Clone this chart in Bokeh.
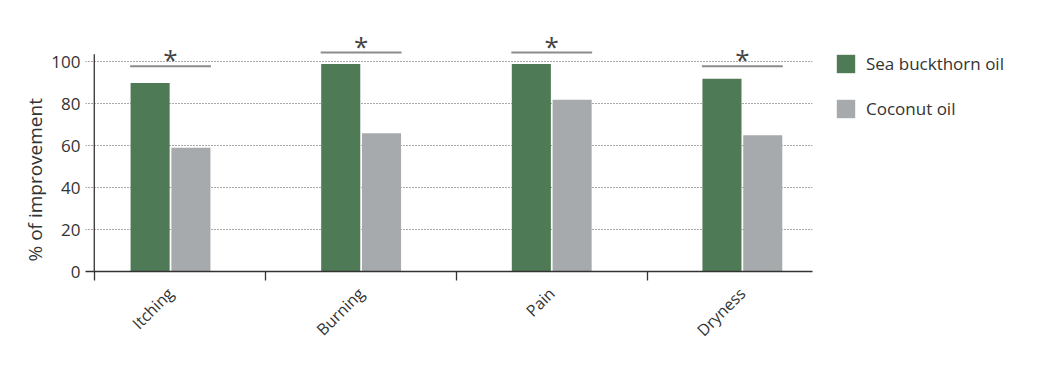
import math
from bokeh.plotting import figure
from bokeh.models import Range1d, FixedTicker, Legend, LegendItem, Title
from bokeh.core.properties import value
from bokeh.embed import file_html
from bokeh.resources import INLINE

categories = ["Itching", "Burning", "Pain", "Dryness"]
sea_buckthorn = [90, 99, 99, 92]
coconut = [59, 66, 82, 65]
bracket_levels = [98, 104.5, 104.5, 98]
significance = ["*", "*", "*", "*"]
y_ticks = [0, 20, 40, 60, 80, 100]
series_names = ["Sea buckthorn oil", "Coconut oil"]
y_title = "% of improvement"

FONT = "Open Sans"
GREEN = "#4f7a56"
GRAY = "#a7aaac"
TXT = "#333333"

idx = list(range(len(categories)))
bar_w = 0.205
off = 0.107

p = figure(frame_width=727, frame_height=241,
           x_range=Range1d(-0.446, 3.368), y_range=Range1d(0, 115),
           output_backend="svg", toolbar_location=None,
           min_border_left=85, min_border_right=0,
           min_border_top=30, min_border_bottom=105)
p.outline_line_color = None
p.xgrid.visible = False
p.ygrid.ticker = FixedTicker(ticks=y_ticks)
p.ygrid.grid_line_color = "#555555"
p.ygrid.grid_line_dash = "1 2"
p.ygrid.grid_line_width = 1

r1 = p.vbar(x=[i - off for i in idx], top=sea_buckthorn, width=bar_w,
            fill_color=GREEN, line_color=None)
r2 = p.vbar(x=[i + off for i in idx], top=coconut, width=bar_w,
            fill_color=GRAY, line_color=None)

# y axis line (drawn manually so it stops just above 100)
y_axis_x = -0.4
p.segment(x0=[y_axis_x], y0=[0], x1=[y_axis_x], y1=[103.7],
          line_color=TXT, line_width=1.3)

# significance brackets
p.segment(x0=[i - 0.212 for i in idx], y0=bracket_levels,
          x1=[i + 0.212 for i in idx], y1=bracket_levels,
          line_color="#8c8c8c", line_width=2)
p.text(x=idx, y=bracket_levels, text=significance, text_align="center",
       text_baseline="alphabetic", text_font=value(FONT),
       text_font_size="26px", text_color="#444444", y_offset=-7)

# y axis
ya = p.yaxis[0]
ya.ticker = FixedTicker(ticks=y_ticks)
ya.axis_line_color = None
ya.major_tick_out = 0
ya.major_tick_in = 0
ya.minor_tick_out = 0
ya.minor_tick_in = 0
ya.major_label_standoff = 5
ya.major_label_text_font = FONT
ya.major_label_text_font_size = "17px"
ya.major_label_text_color = TXT

p.add_layout(Title(text=y_title, align="left", offset=10,
                   text_font=FONT, text_font_size="19px",
                   text_font_style="normal", text_color=TXT,
                   standoff=2), "left")

# x axis
xa = p.xaxis[0]
xa.ticker = FixedTicker(ticks=idx, minor_ticks=[-0.4, 0.5, 1.5, 2.5])
xa.major_label_overrides = {i: c for i, c in zip(idx, categories)}
xa.major_tick_out = 0
xa.major_tick_in = 0
xa.minor_tick_out = 9
xa.minor_tick_in = 0
xa.minor_tick_line_color = TXT
xa.minor_tick_line_width = 1.3
xa.axis_line_color = TXT
xa.axis_line_width = 1.3
xa.major_label_orientation = math.pi / 4
xa.major_label_standoff = 10
xa.major_label_text_font = FONT
xa.major_label_text_font_size = "16px"
xa.major_label_text_color = TXT

legend = Legend(items=[LegendItem(label=series_names[0], renderers=[r1]),
                       LegendItem(label=series_names[1], renderers=[r2])],
                location="top_left", glyph_width=23, glyph_height=23,
                spacing=22, label_standoff=9, padding=10, margin=22,
                border_line_color=None, background_fill_alpha=0,
                label_text_font=FONT, label_text_font_size="17px",
                label_text_color=TXT)
p.add_layout(legend, "right")

open("out.html", "w").write(file_html(p, INLINE))
